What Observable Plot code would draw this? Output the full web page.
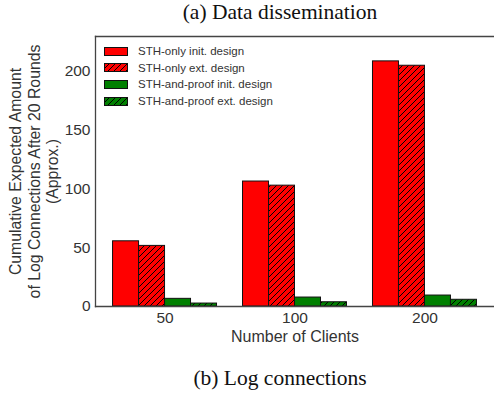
<!DOCTYPE html>
<html>
<head>
<meta charset="utf-8">
<script src="https://cdn.jsdelivr.net/npm/d3@7"></script>
<script src="https://cdn.jsdelivr.net/npm/@observablehq/plot@0.6"></script>
<style>
  html, body { margin: 0; padding: 0; background: #fff; }
  #wrap { position: relative; width: 494px; height: 394px; overflow: hidden; }
  .cap { position: absolute; font-family: "Liberation Serif", "Times New Roman", serif; font-size: 21.5px; color: #111; white-space: nowrap; transform: translate(-50%, -50%); line-height: 1; }
  #legend { position: absolute; left: 104px; top: 43px; font-family: "Liberation Sans", Arial, sans-serif; font-size: 11.5px; color: #333; }
  #legend .row { display: flex; align-items: center; height: 16.6px; }
  #legend svg { margin-right: 10px; display: block; }
</style>
</head>
<body>
<div id="wrap">
  <div class="cap" id="title" style="left:280px; top:13px;">(a) Data dissemination</div>
  <div id="chart"></div>
  <div id="legend"></div>
  <div class="cap" id="caption" style="left:280px; top:379px;">(b) Log connections</div>
</div>
<script>
const groups = ["50", "100", "200"];
const series = ["STH-only init. design", "STH-only ext. design", "STH-and-proof init. design", "STH-and-proof ext. design"];
const sthOnlyInit = [55.3, 106, 207.9];
const sthOnlyExt = [51.4, 102.5, 204.2];
const sthProofInit = [6.5, 7.6, 9.3];
const sthProofExt = [2.5, 3.6, 5.7];
const yTicks = [0, 50, 100, 150, 200];
const yLabel = "Cumulative Expected Amount\nof Log Connections After 20 Rounds\n(Approx.)";
const xLabel = "Number of Clients";
const seriesFills = ["#ff0000", "url(#hatch-red)", "#008000", "url(#hatch-green)"];

const valuesBySeries = [sthOnlyInit, sthOnlyExt, sthProofInit, sthProofExt];

const W = 494, H = 394, ML = 95, MR = 0, MT = 36, MB = 88;
const padInner = 0.2, padOuter = 0.135;
const slot = d3.scaleBand().domain(groups).range([ML, W - MR]).paddingInner(padInner).paddingOuter(padOuter).bandwidth() / series.length;

function hatchDefs() {
  const defs = d3.create("svg:defs");
  [["hatch-red", "#ff0000"], ["hatch-green", "#008000"]].forEach(([id, c]) => {
    const p = defs.append("pattern").attr("id", id).attr("patternUnits", "userSpaceOnUse")
      .attr("width", 6).attr("height", 6);
    p.append("rect").attr("width", 6).attr("height", 6).attr("fill", c);
    p.append("path").attr("d", "M0,6L6,0M-1.5,1.5L1.5,-1.5M4.5,7.5L7.5,4.5")
      .attr("stroke", "#000").attr("stroke-width", 1);
  });
  return defs.node();
}

const barMarks = series.map((s, si) => Plot.barY(groups, {
  x: d => d,
  y: (d, gi) => valuesBySeries[si][gi],
  fill: seriesFills[si],
  stroke: "#111",
  strokeWidth: 1,
  insetLeft: slot * si,
  insetRight: slot * (series.length - 1 - si)
}));

const frameStyle = {stroke: "#444", strokeWidth: 1.3};

const chart = Plot.plot({
  width: W,
  height: H,
  marginLeft: ML,
  marginRight: MR,
  marginTop: MT,
  marginBottom: MB,
  style: {fontFamily: "'Liberation Sans', Arial, sans-serif", background: "transparent"},
  x: {domain: groups, paddingInner: padInner, paddingOuter: padOuter, round: false},
  y: {domain: [0, 229]},
  marks: [
    hatchDefs,
    ...barMarks,
    Plot.axisY({ticks: yTicks, tickSize: 0, tickPadding: 5, fontSize: 15.5, color: "#333", label: null}),
    Plot.axisX({tickSize: 0, tickPadding: 5, fontSize: 15.5, color: "#333", label: null}),
    Plot.text([yLabel], {frameAnchor: "left", dx: -61.5, rotate: -90, textAnchor: "middle", lineAnchor: "middle", lineHeight: 1.17, fontSize: 15.8, fill: "#333"}),
    Plot.text([xLabel], {frameAnchor: "bottom", dy: 30, lineAnchor: "middle", fontSize: 16, fill: "#333"}),
    Plot.frame({...frameStyle, anchor: "top"}),
    Plot.frame({...frameStyle, anchor: "bottom"}),
    Plot.frame({...frameStyle, anchor: "left"})
  ]
});
document.getElementById("chart").appendChild(chart);

const legend = document.getElementById("legend");
series.forEach((s, i) => {
  const row = document.createElement("div");
  row.className = "row";
  const sw = d3.create("svg").attr("width", 24).attr("height", 9);
  sw.append("rect").attr("x", 0.5).attr("y", 0.5).attr("width", 23).attr("height", 8)
    .attr("fill", seriesFills[i]).attr("stroke", "#111").attr("stroke-width", 1);
  row.appendChild(sw.node());
  const t = document.createElement("span");
  t.textContent = s;
  row.appendChild(t);
  legend.appendChild(row);
});
</script>
</body>
</html>
